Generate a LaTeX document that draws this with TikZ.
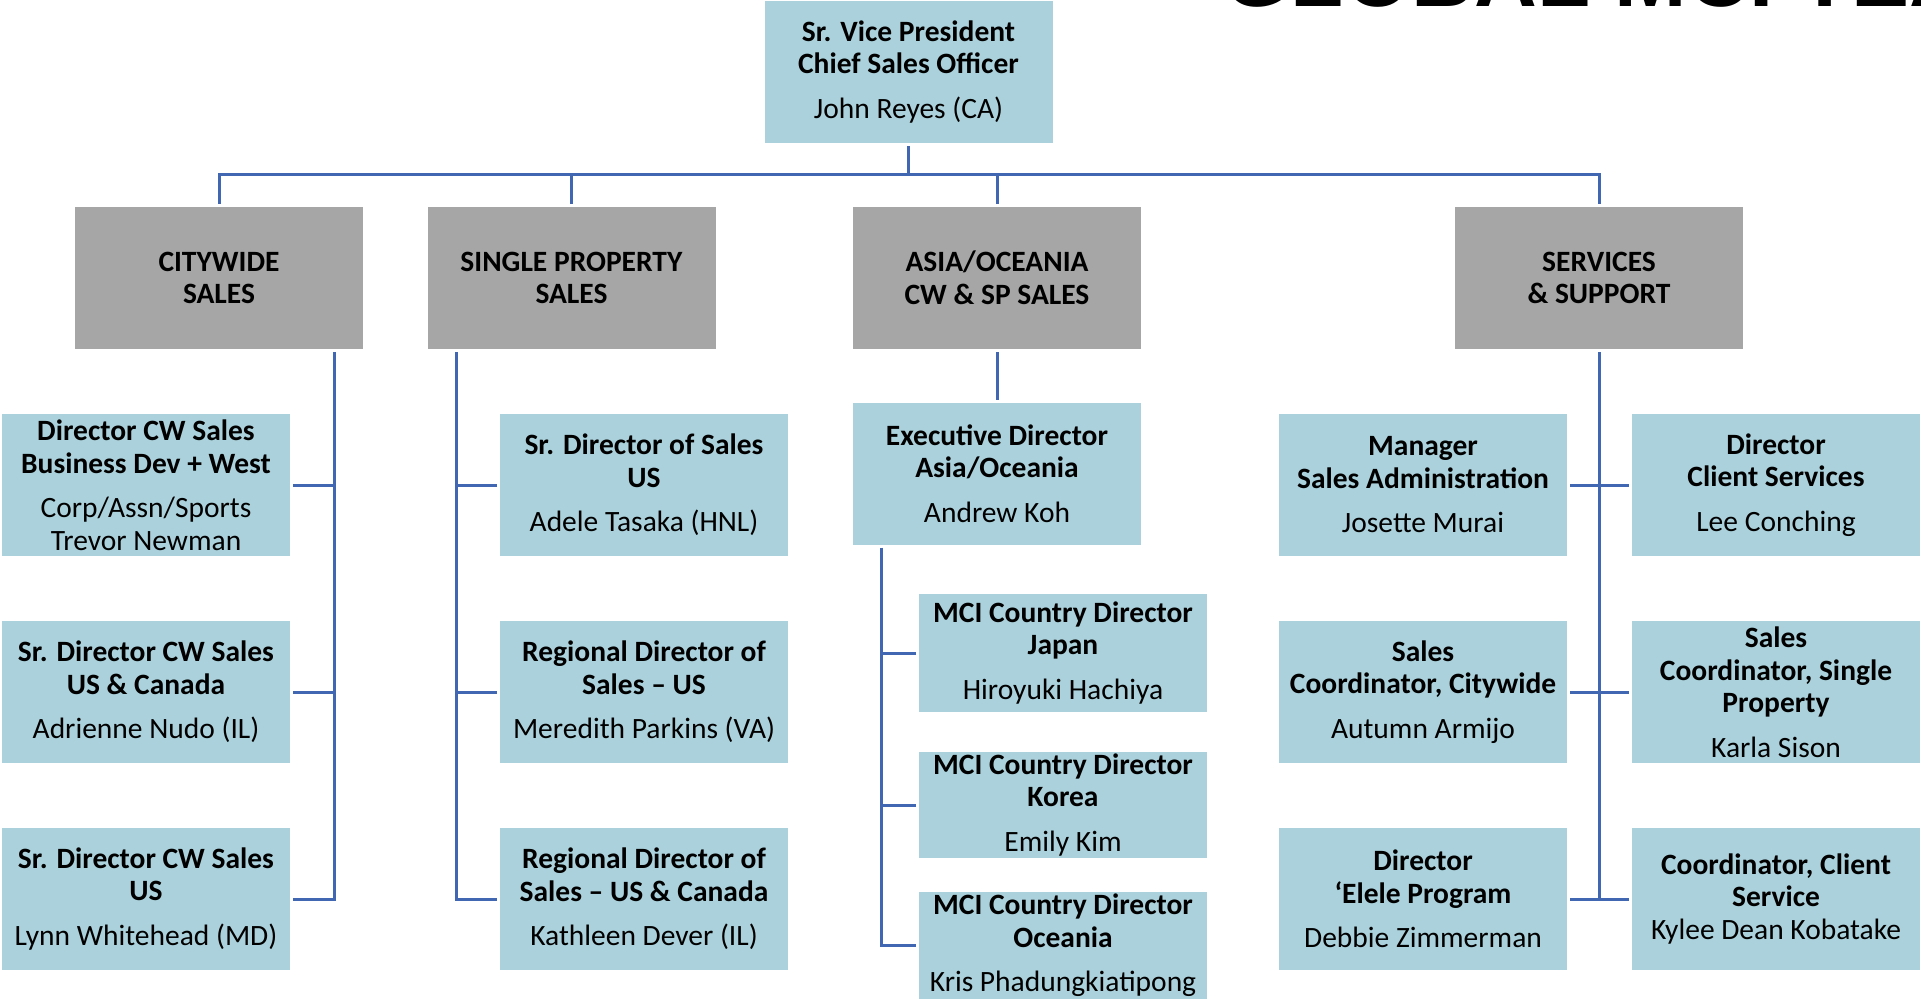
\documentclass[tikz,border=0pt]{standalone}
\usepackage{fontspec}
\setmainfont{Carlito}
\newfontfamily\headfont{Liberation Sans}
\usepackage{tikz}
\usetikzlibrary{positioning}
\definecolor{boxblue}{RGB}{171,210,220}
\definecolor{unitgrey}{RGB}{166,166,166}
\definecolor{linkblue}{RGB}{66,103,178}
\tikzstyle{person} = [rectangle, fill=boxblue, minimum width=288pt, minimum height=142pt, inner sep=0pt, outer sep=3pt, align=center, font=\fontsize{29.5}{32.5}\selectfont]
\tikzstyle{unit} = [person, fill=unitgrey]
\tikzstyle{link} = [draw=linkblue, line width=3pt]

\begin{document}
\begin{tikzpicture}[x=1pt, y=-1pt]
		\useasboundingbox (0,0) rectangle (1921,999);
		\begin{scope}
			\clip (0,0) rectangle (1921,999);
			\node (title) [anchor=base west, inner sep=0pt, font=\headfont\bfseries\fontsize{87}{90}\selectfont] at (1223,6) {GLOBAL MCI TEAM};
		\end{scope}

		\node (svp) [person] at (908.5,72) {\textbf{Sr. Vice President}\\\textbf{Chief Sales Officer}\\[12pt]John Reyes (CA)};

		\node (cw) [unit] at (219,278) {\textbf{CITYWIDE}\\\textbf{SALES}};
		\node (sp) [unit] at (571.5,278) {\textbf{SINGLE PROPERTY}\\\textbf{SALES}};
		\node (ao) [unit] at (997,278) {\textbf{ASIA/OCEANIA}\\\textbf{CW \& SP SALES}};
		\node (svc) [unit] at (1599,278) {\textbf{SERVICES}\\\textbf{\& SUPPORT}};

		\node (cwA) [person] at (146,485) {\textbf{Director CW Sales}\\\textbf{Business Dev + West}\\[12pt]Corp/Assn/Sports\\Trevor Newman};
		\node (cwB) [person] at (146,692) {\textbf{Sr. Director CW Sales}\\\textbf{US \& Canada}\\[12pt]Adrienne Nudo (IL)};
		\node (cwC) [person] at (146,899) {\textbf{Sr. Director CW Sales}\\\textbf{US}\\[12pt]Lynn Whitehead (MD)};

		\node (spA) [person] at (644,485) {\textbf{Sr. Director of Sales}\\\textbf{US}\\[12pt]Adele Tasaka (HNL)};
		\node (spB) [person] at (644,692) {\textbf{Regional Director of}\\\textbf{Sales – US}\\[12pt]Meredith Parkins (VA)};
		\node (spC) [person] at (644,899) {\textbf{Regional Director of}\\\textbf{Sales – US \& Canada}\\[12pt]Kathleen Dever (IL)};

		\node (exec) [person] at (997,473.5) {\textbf{Executive Director}\\\textbf{Asia/Oceania}\\[12pt]Andrew Koh};
		\node (jpn) [person, minimum height=118pt] at (1063,653) {\textbf{MCI Country Director}\\\textbf{Japan}\\[12pt]Hiroyuki Hachiya};
		\node (kor) [person, minimum height=106pt] at (1063,805) {\textbf{MCI Country Director}\\\textbf{Korea}\\[12pt]Emily Kim};
		\node (ocn) [person, minimum height=107pt] at (1063,945.5) {\textbf{MCI Country Director}\\\textbf{Oceania}\\[12pt]Kris Phadungkiatipong};

		\node (mgr) [person] at (1423,485) {\textbf{Manager}\\\textbf{Sales Administration}\\[12pt]Josette Murai};
		\node (scc) [person] at (1423,692) {\textbf{Sales}\\\textbf{Coordinator, Citywide}\\[12pt]Autumn Armijo};
		\node (ele) [person] at (1423,899) {\textbf{Director}\\\textbf{‘Elele Program}\\[12pt]Debbie Zimmerman};
		\node (dcs) [person] at (1776,485) {\textbf{Director}\\\textbf{Client Services}\\[12pt]Lee Conching};
		\node (scs) [person] at (1776,692) {\textbf{Sales}\\\textbf{Coordinator, Single}\\\textbf{Property}\\[12pt]Karla Sison};
		\node (ccs) [person] at (1776,899) {\textbf{Coordinator, Client}\\\textbf{Service}\\Kylee Dean Kobatake};

		% top level bus
		\coordinate (bus) at (0,174);
		\draw [link] (svp.south) -- (svp.south |- bus);
		\draw [link] (cw.north) -- (cw.north |- bus) -- (svc.north |- bus) -- (svc.north);
		\draw [link] (sp.north) -- (sp.north |- bus);
		\draw [link] (ao.north) -- (ao.north |- bus);

		% citywide
		\coordinate (cwbus) at (334,0);
		\draw [link] (cw.south -| cwbus) |- (cwC.east);
		\foreach \n in {cwA,cwB}
			\draw [link] (\n.east) -- (\n.east -| cwbus);

		% single property
		\coordinate (spbus) at (456,0);
		\draw [link] (sp.south -| spbus) |- (spC.west);
		\foreach \n in {spA,spB}
			\draw [link] (\n.west) -- (\n.west -| spbus);

		% asia/oceania
		\coordinate (aobus) at (881,0);
		\draw [link] (ao.south) -- (exec.north);
		\draw [link] (exec.south -| aobus) |- (ocn.west);
		\foreach \n in {jpn,kor}
			\draw [link] (\n.west) -- (\n.west -| aobus);

		% services
		\draw [link] (svc.south) -- (svc.south |- ele.east);
		\draw [link] (mgr.east) -- (dcs.west);
		\draw [link] (scc.east) -- (scs.west);
		\draw [link] (ele.east) -- (ccs.west);
	\end{tikzpicture}
\end{document}
